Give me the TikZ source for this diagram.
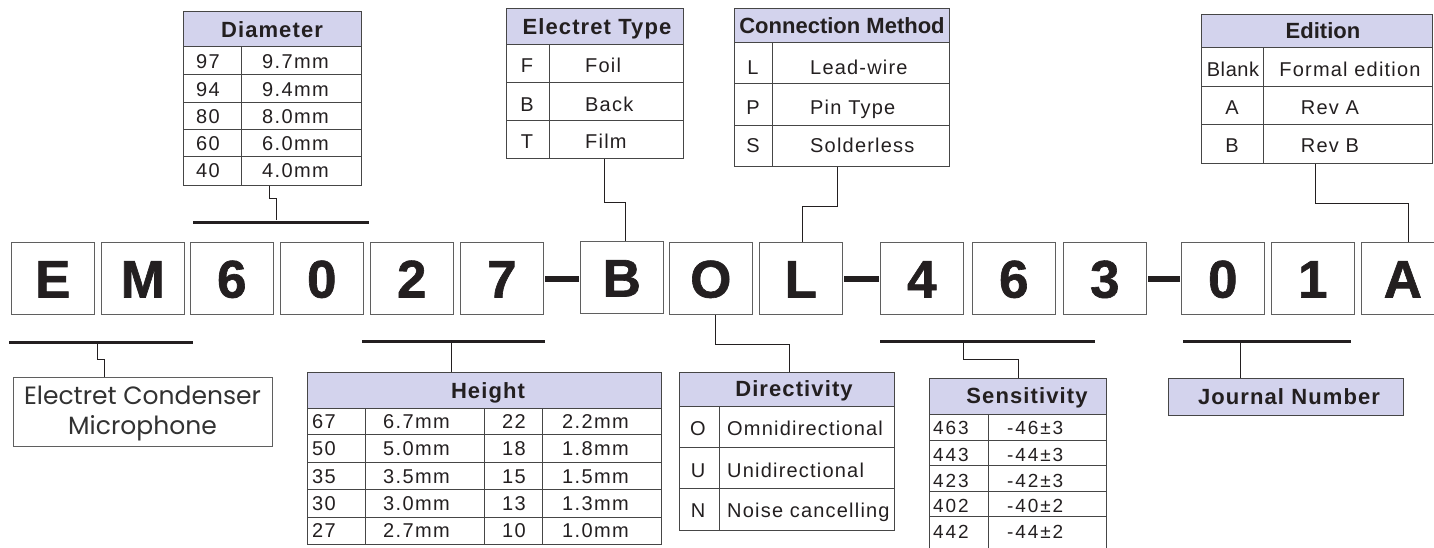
\documentclass[tikz,border=0pt]{standalone}
\usepackage{fontspec}
\setmainfont{Liberation Sans}
\newfontfamily\gothic{Poppins}
\usetikzlibrary{calc}
\definecolor{hdrfill}{RGB}{211,211,237}
\definecolor{ink}{RGB}{35,31,32}
\definecolor{gridc}{RGB}{70,70,70}
\definecolor{boxc}{RGB}{95,95,95}
\definecolor{ecmc}{RGB}{50,50,50}
\begin{document}
\begin{tikzpicture}[x=1pt,y=-1pt,
  gridl/.style={draw=gridc,line width=1pt},
  tbl/.style={draw=gridc,line width=1pt,inner sep=0,anchor=north west},
  hfillbox/.style={fill=hdrfill,draw=gridc,line width=1pt,inner sep=0,anchor=north west},
  htext/.style={inner sep=0,text=ink,text height=15.6pt,text depth=0pt,font=\fontsize{22}{24}\selectfont\bfseries\addfontfeature{LetterSpace=5}},
  htextn/.style={htext,font=\fontsize{22}{24}\selectfont\bfseries},
  rtext/.style={inner sep=0,text=ink,text height=14.3pt,text depth=0pt,font=\fontsize{20}{22}\selectfont\addfontfeature{LetterSpace=6}},
  ntext/.style={inner sep=0,text=ink,text height=14.3pt,text depth=0pt,font=\fontsize{20}{22}\selectfont\addfontfeature{LetterSpace=7}},
  stext/.style={inner sep=0,text=ink,text height=13.6pt,text depth=0pt,font=\fontsize{19}{21}\selectfont\addfontfeature{LetterSpace=10}},
  lbox/.style={draw=boxc,line width=1.1pt,minimum width=82.5pt,minimum height=72pt,inner sep=0,anchor=north west,
    text=ink,text height=38pt,text depth=0pt,font=\fontsize{53}{53}\selectfont\bfseries\addfontfeature{FakeBold=1.2}},
  conn/.style={draw=ink,line width=1pt},
  barn/.style={fill=ink,inner sep=0,minimum height=3pt},
  dashln/.style={draw=ink,line width=6pt,shorten <=1.5pt,shorten >=1.5pt}
]
\clip (0,0) rectangle (1434,548);

% ---------------- letter boxes ----------------
\node[lbox] (bE) at (11,242) {E};
\node[lbox] (bM) at (101,242) {M};
\node[lbox] (bSix) at (190,242) {6};
\node[lbox] (bZero) at (280,242) {0};
\node[lbox] (bTwo) at (370,242) {2};
\node[lbox] (bSeven) at (460,242) {7};
\node[lbox] (bB) at (580,241) {B};
\node[lbox] (bO) at (669,242) {O};
\node[lbox] (bL) at (759,242) {L};
\node[lbox] (bFour) at (880,242) {4};
\node[lbox] (bSixb) at (972,242) {6};
\node[lbox] (bThree) at (1063,242) {3};
\node[lbox] (bZerob) at (1181,242) {0};
\node[lbox] (bOne) at (1271,242) {1};
\node[lbox] (bA) at (1361,242) {A};
\draw[dashln] (bSeven.east) -- (bSeven.east -| bB.west);
\draw[dashln] (bL.east) -- (bL.east -| bFour.west);
\draw[dashln] (bThree.east) -- (bThree.east -| bZerob.west);

% ---------------- bars ----------------
\node[barn,minimum width=176pt] (barDiam) at (281,222) {};
\node[barn,minimum width=184pt] (barECM) at (101,342) {};
\node[barn,minimum width=183pt] (barHt) at (453.5,341) {};
\node[barn,minimum width=215pt] (barSens) at (987.5,341) {};
\node[barn,minimum width=168pt] (barJour) at (1267,341) {};

% ---------------- Diameter ----------------
\fill[hdrfill] (183,11) rectangle (361,47);
\node[tbl,minimum width=178pt,minimum height=174pt] (tDiam) at (183,11) {};
\draw[gridl] (183,47) -- (361,47);
\foreach \y in {75,102.5,130,157} \draw[gridl] (183,\y) -- (361,\y);
\draw[gridl] (241,47) -- (241,185);
\node[htext] (hDiam) at (272,30) {Diameter};
\foreach \k/\v/\y [count=\i] in {97/9.7mm/61,94/9.4mm/89,80/8.0mm/116,60/6.0mm/143,40/4.0mm/170}{
  \node[ntext,anchor=west] (dk\i) at (196,\y) {\k};
  \node[ntext,anchor=west] (dv\i) at (262,\y) {\v};
}

% ---------------- Electret Type ----------------
\fill[hdrfill] (506,8) rectangle (683,45);
\node[tbl,minimum width=177pt,minimum height=150pt] (tET) at (506,8) {};
\draw[gridl] (506,45) -- (683,45);
\foreach \y in {83,121} \draw[gridl] (506,\y) -- (683,\y);
\draw[gridl] (549,45) -- (549,158);
\node[htext] (hET) at (597,27) {Electret Type};
\foreach \k/\v/\y [count=\i] in {F/Foil/65,B/Back/104,T/Film/141}{
  \node[rtext] (ek\i) at (527,\y) {\k};
  \node[rtext,anchor=west] (ev\i) at (585,\y) {\v};
}

% ---------------- Connection Method ----------------
\fill[hdrfill] (734,8) rectangle (949,43);
\node[tbl,minimum width=215pt,minimum height=158pt] (tCM) at (734,8) {};
\draw[gridl] (734,43) -- (949,43);
\foreach \y in {84,126} \draw[gridl] (734,\y) -- (949,\y);
\draw[gridl] (772,43) -- (772,166);
\node[htextn] (hCM) at (842,26) {Connection Method};
\foreach \k/\v/\y [count=\i] in {L/Lead-wire/67,P/Pin Type/107,S/Solderless/145}{
  \node[rtext] (ck\i) at (753,\y) {\k};
  \node[rtext,anchor=west] (cv\i) at (810,\y) {\v};
}

% ---------------- Edition ----------------
\fill[hdrfill] (1201,14) rectangle (1432,48);
\node[tbl,minimum width=231pt,minimum height=149pt] (tEd) at (1201,14) {};
\draw[gridl] (1201,48) -- (1432,48);
\foreach \y in {87,125} \draw[gridl] (1201,\y) -- (1432,\y);
\draw[gridl] (1263,48) -- (1263,163);
\node[htextn] (hEd) at (1323,31) {Edition};
\node[rtext,font=\fontsize{20}{22}\selectfont\addfontfeature{LetterSpace=3}] (edk1) at (1233,69) {Blank};
\node[rtext] (edv1) at (1350,69) {Formal edition};
\node[rtext] (edk2) at (1232,107) {A};
\node[rtext] (edv2) at (1330,107) {Rev A};
\node[rtext] (edk3) at (1232,145) {B};
\node[rtext] (edv3) at (1330,145) {Rev B};

% ---------------- Electret Condenser Microphone ----------------
\node[draw=boxc,line width=1pt,minimum width=259pt,minimum height=69pt,inner sep=0,anchor=north west] (tECM) at (13,377) {};
\node[inner sep=0,align=center,text=ecmc,font=\gothic\fontsize{25}{30}\selectfont] (ecmTxt) at (142.5,413) {Electret Condenser\\Microphone};

% ---------------- Height ----------------
\fill[hdrfill] (307,372) rectangle (661,408);
\node[tbl,minimum width=354pt,minimum height=172pt] (tHt) at (307,372) {};
\draw[gridl] (307,408) -- (661,408);
\foreach \y in {434.5,462,489,517} \draw[gridl] (307,\y) -- (661,\y);
\foreach \x in {365,484,542} \draw[gridl] (\x,408) -- (\x,544);
\node[htext] (hHt) at (488,391) {Height};
\foreach \a/\b/\c/\d/\y [count=\i] in {67/6.7mm/22/2.2mm/421,50/5.0mm/18/1.8mm/448,35/3.5mm/15/1.5mm/476,30/3.0mm/13/1.3mm/503,27/2.7mm/10/1.0mm/530}{
  \node[ntext,anchor=west] (ha\i) at (312,\y) {\a};
  \node[ntext,anchor=west] (hb\i) at (383,\y) {\b};
  \node[ntext,anchor=west] (hc\i) at (502,\y) {\c};
  \node[ntext,anchor=west] (hd\i) at (562,\y) {\d};
}

% ---------------- Directivity ----------------
\fill[hdrfill] (679,372) rectangle (894,406);
\node[tbl,minimum width=215pt,minimum height=158pt] (tDir) at (679,372) {};
\draw[gridl] (679,406) -- (894,406);
\foreach \y in {447,488} \draw[gridl] (679,\y) -- (894,\y);
\draw[gridl] (719,406) -- (719,530);
\node[htext] (hDir) at (794,389) {Directivity};
\foreach \k/\v/\y [count=\i] in {O/Omnidirectional/428,U/Unidirectional/470,N/Noise cancelling/510}{
  \node[rtext] (rk\i) at (698,\y) {\k};
  \node[rtext,anchor=west] (rv\i) at (727,\y) {\v};
}

% ---------------- Sensitivity ----------------
\fill[hdrfill] (929,378) rectangle (1106,414);
\node[tbl,minimum width=177pt,minimum height=180pt] (tSens) at (929,378) {};
\draw[gridl] (929,414) -- (1106,414);
\foreach \y in {440,465.5,491,516} \draw[gridl] (929,\y) -- (1106,\y);
\draw[gridl] (988,414) -- (988,560);
\node[htext] (hSens) at (1027,396) {Sensitivity};
\foreach \k/\v/\y [count=\i] in {463/-46±3/428,443/-44±3/455,423/-42±3/481,402/-40±2/506,442/-44±2/532}{
  \node[stext,anchor=west] (sk\i) at (933,\y) {\k};
  \node[stext,anchor=west] (sv\i) at (1007,\y) {\v};
}

% ---------------- Journal Number ----------------
\node[hfillbox,minimum width=235pt,minimum height=37pt] (tJour) at (1168,378) {};
\node[htext] (hJour) at (1289,397) {Journal Number};

% ---------------- connectors ----------------
\draw[conn] ([xshift=-3pt]tDiam.south) -- ++(0,13) -| ([xshift=-5pt]barDiam.north);
\draw[conn] ([xshift=-4pt]barECM.south) -- ++(0,16) -| ([xshift=-38.5pt]tECM.north);
\coordinate (hA) at ([xshift=-2.5pt]barHt.south);
\draw[conn] (hA) -- (hA |- tHt.north);
\draw[conn] ([xshift=4.5pt]bO.south) -- ++(0,29) -| ([xshift=2.5pt]tDir.north);
\draw[conn] ([xshift=-24.5pt]barSens.south) -- ++(0,17) -| ([xshift=0.5pt]tSens.north);
\coordinate (jA) at ([xshift=-27pt]barJour.south);
\draw[conn] (jA) -- (jA |- tJour.north);
\draw[conn] ([xshift=9.5pt]tET.south) -- ++(0,44) -| ([xshift=3.75pt]bB.north);
\draw[conn] ([xshift=-4.5pt]tCM.south) -- ++(0,39) -| ([xshift=1.75pt]bL.north);
\draw[conn] ([xshift=-1.5pt]tEd.south) -- ++(0,40) -| ([xshift=5.75pt]bA.north);
\end{tikzpicture}
\end{document}
